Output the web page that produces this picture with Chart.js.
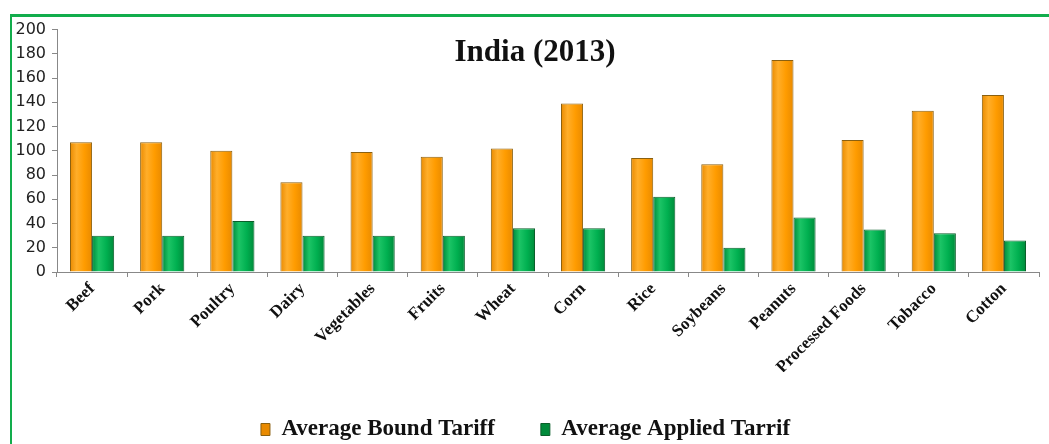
<!DOCTYPE html>
<html>
<head>
<meta charset="utf-8">
<script src="https://cdn.jsdelivr.net/npm/chart.js@4"></script>
<style>
    body { margin: 0; background: #fff; overflow: hidden; }
    #frame {
        position: absolute; left: 10px; top: 14px; width: 1039px; height: 430px;
        border-top: 3px solid #12ad4c; border-left: 2px solid #12ad4c;
        box-sizing: border-box;
    }
    #wrap { position: absolute; left: 0; top: -3px; width: 1037px; height: 441px; }
    #title {
        position: absolute; left: 435px; top: 33px; width: 200px; text-align: center;
        font: bold 31px 'Liberation Serif', serif; color: #111; pointer-events: none;
    }
</style>
</head>
<body>
<div id="frame"><div id="wrap"><canvas id="barChart"></canvas></div></div>
<div id="title">India (2013)</div>
<script>
// Dados do gráfico
const categories = ['Beef', 'Pork', 'Poultry', 'Dairy', 'Vegetables', 'Fruits', 'Wheat', 'Corn',
    'Rice', 'Soybeans', 'Peanuts', 'Processed Foods', 'Tobacco', 'Cotton'];
const boundTariff = [107, 107, 100, 74, 99, 95, 102, 139, 94, 89, 175, 109, 133, 146];
const appliedTariff = [30, 30, 42, 30, 30, 30, 36, 36, 62, 20, 45, 35, 32, 26];
const yTicks = [0, 20, 40, 60, 80, 100, 120, 140, 160, 180, 200];

const CAT_PCT = 0.63;

// Gradiente horizontal para dar o efeito de cilindro (calculado a partir da escala x)
function barGradient(context, colors) {
    const chart = context.chart;
    const xs = chart.scales && chart.scales.x;
    if (!xs || !chart.chartArea || context.dataIndex === undefined) return colors[1];
    const center = xs.getPixelForValue(context.dataIndex);
    const barW = (xs.width / categories.length) * CAT_PCT / 2;
    const x0 = context.datasetIndex === 0 ? center - barW : center;
    if (!isFinite(x0)) return colors[1];
    const g = chart.ctx.createLinearGradient(x0, 0, x0 + barW, 0);
    g.addColorStop(0, colors[0]);
    g.addColorStop(0.3, colors[2]);
    g.addColorStop(0.65, colors[1]);
    g.addColorStop(1, colors[0]);
    return g;
}

const orange = ['#e98a00', '#ff9c00', '#ffae2a'];
const green = ['#008a3a', '#00b050', '#1cc466'];

const ctx = document.getElementById('barChart').getContext('2d');
new Chart(ctx, {
    type: 'bar',
    data: {
        labels: categories,
        datasets: [{
            label: 'Average Bound Tariff',
            data: boundTariff,
            backgroundColor: c => barGradient(c, orange),
            borderColor: '#8a6010',
            borderWidth: 1,
            categoryPercentage: CAT_PCT,
            barPercentage: 1.0
        }, {
            label: 'Average Applied Tarrif',
            data: appliedTariff,
            backgroundColor: c => barGradient(c, green),
            borderColor: '#0b5e2a',
            borderWidth: 1,
            categoryPercentage: CAT_PCT,
            barPercentage: 1.0
        }]
    },
    options: {
        responsive: true,
        maintainAspectRatio: false,
        animation: false,
        layout: { padding: { top: 9, right: 10, left: 0, bottom: 4 } },
        plugins: {
            legend: {
                position: 'bottom',
                labels: {
                    color: '#111',
                    font: { family: 'Liberation Serif', size: 23, weight: 'bold' },
                    boxWidth: 9,
                    boxHeight: 12,
                    padding: 46
                }
            },
            tooltip: { enabled: false }
        },
        scales: {
            x: {
                afterFit: axis => { axis.height = 100; },
                grid: { display: true, drawOnChartArea: false, offset: true, tickLength: 5, color: '#888' },
                border: { color: '#888' },
                ticks: {
                    minRotation: 45,
                    maxRotation: 45,
                    color: '#111',
                    padding: 2,
                    font: { family: 'Liberation Serif', size: 17, weight: 'bold' }
                }
            },
            y: {
                min: 0,
                max: 200,
                afterFit: axis => { axis.width = 45; },
                afterBuildTicks: axis => { axis.ticks = yTicks.map(v => ({ value: v })); },
                grid: { display: true, drawOnChartArea: false, tickLength: 5, color: '#888' },
                border: { color: '#888' },
                ticks: {
                    color: '#222',
                    padding: 6,
                    font: { family: 'DejaVu Sans', size: 16 }
                }
            }
        }
    }
});
</script>
</body>
</html>
